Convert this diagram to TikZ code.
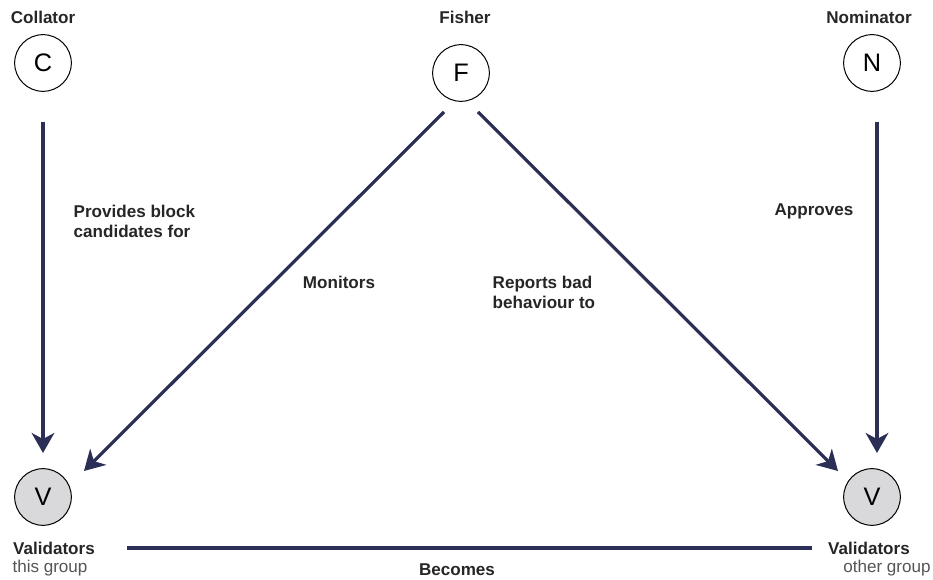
\documentclass[tikz,border=0pt]{standalone}
\usepackage{fontspec}
\setmainfont{Liberation Sans}
\usetikzlibrary{arrows.meta}
\definecolor{navy}{HTML}{2B2E55}
\definecolor{vfill}{HTML}{D9D9DB}
\definecolor{subgray}{HTML}{555555}
\tikzset{
  actor/.style={circle,draw=black,line width=0.75pt,minimum size=42.5pt,inner sep=0pt,font=\fontsize{19}{22}\selectfont},
  valid/.style={actor,fill=vfill},
  title/.style={font=\bfseries\fontsize{12.8}{15}\selectfont,text=black!85},
  sub/.style={font=\fontsize{12.8}{15}\selectfont,text=subgray},
  lbl/.style={font=\bfseries\fontsize{12.8}{15}\selectfont,text=black!85,align=left},
  conn/.style={draw=navy,line width=2.4pt,-{Stealth[length=15pt,width=17pt,inset=4.5pt]}},
  plain/.style={draw=navy,line width=2.4pt}
}
\begin{document}
\begin{tikzpicture}[x=0.75pt,y=-0.75pt]
\useasboundingbox (0,0) rectangle (933,580);
% titles
\node[title] (tc) at (43,17) {Collator};
\node[title] (tf) at (465,17) {Fisher};
\node[title] (tn) at (869,17) {Nominator};
% actors
\node[actor] (C) at (43,63) {C};
\node[actor] (F) at (461,73) {F};
\node[actor] (N) at (872,63) {N};
\node[valid] (V1) at (43,497) {V};
\node[valid] (V2) at (872,497) {V};
% bottom titles
\node[title] (tv1) at (54,548) {Validators};
\node[sub] (sv1) at (50,568) {this group};
\node[title] (tv2) at (869,548) {Validators};
\node[sub] (sv2) at (887,568) {other group};
% connector endpoints
\coordinate (c1s) at (43,122);
\coordinate (c1e) at (43,453);
\coordinate (n1s) at (877,122);
\coordinate (n1e) at (877,453);
\coordinate (f1s) at (444,112);
\coordinate (f1e) at (84,471);
\coordinate (f2s) at (478,112);
\coordinate (f2e) at (838,471);
\coordinate (bs) at (127,548);
\coordinate (be) at (812,548);
\draw[conn] (c1s) -- (c1e);
\draw[conn] (n1s) -- (n1e);
\draw[conn] (f1s) -- (f1e);
\draw[conn] (f2s) -- (f2e);
\draw[plain] (bs) -- (be);
% labels
\node[lbl,anchor=west] (l1) at (69,221) {Provides block\\candidates for};
\node[lbl] (l2) at (339,282) {Monitors};
\node[lbl,anchor=west] (l3) at (488,292) {Reports bad\\behaviour to};
\node[lbl] (l4) at (814,211) {Approves};
\node[lbl] (l5) at (457,570) {Becomes};
\end{tikzpicture}
\end{document}
